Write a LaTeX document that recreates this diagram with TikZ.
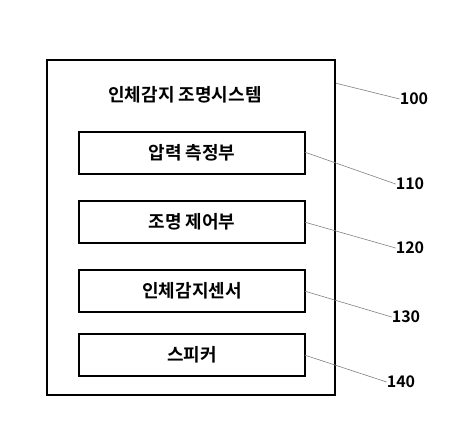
\documentclass[tikz,border=0pt]{standalone}
\usepackage{fontspec}
\setmainfont{Noto Sans CJK KR}[BoldFont={* Bold}]
\usetikzlibrary{positioning}

\begin{document}
\begin{tikzpicture}[x=1pt, y=-1pt]
		\tikzstyle{sysblock} = [rectangle, draw, line width = 1.6pt, minimum width = 288pt, minimum height = 335pt, inner sep = 0pt];
		\tikzstyle{partblock} = [rectangle, draw, line width = 1.6pt, align = center, minimum width = 226pt, minimum height = 42pt, inner sep = 0pt, outer sep = 0pt, font = \bfseries\fontsize{18}{21}\selectfont];
		\tikzstyle{refnum} = [inner sep = 0pt, font = \bfseries\fontsize{16}{18}\selectfont];
		\tikzstyle{leader} = [draw, gray, line width = 0.6pt];
		\useasboundingbox (0,0) rectangle (460,435);
		\node (system) at (191,227.5) [sysblock] {};
		\node (title) at (185,95) [inner sep = 0pt, font = \bfseries\fontsize{18}{21}\selectfont] {인체감지 조명시스템};
		\node (pressure) at (192,153.2) [partblock] {압력 측정부};
		\node (light) [partblock, below=27pt of pressure] {조명 제어부};
		\node (sensor) [partblock, below=27pt of light] {인체감지센서};
		\node (speaker) [partblock, below=22pt of sensor] {스피커};
		\node (n100) at (414,99) [refnum] {100};
		\node (n110) at (410,184) [refnum] {110};
		\node (n120) at (410,248) [refnum] {120};
		\node (n130) at (406,317) [refnum] {130};
		\node (n140) at (401,382) [refnum] {140};
		\path [leader] ([yshift=-24pt]system.north east) -- (n100.west);
		\path [leader] ([yshift=1pt]pressure.east) -- (n110.west);
		\path [leader] (light.east) -- (n120.west);
		\path [leader] (sensor.east) -- (n130.west);
		\path [leader] (speaker.east) -- (n140.west);
	\end{tikzpicture}
\end{document}
